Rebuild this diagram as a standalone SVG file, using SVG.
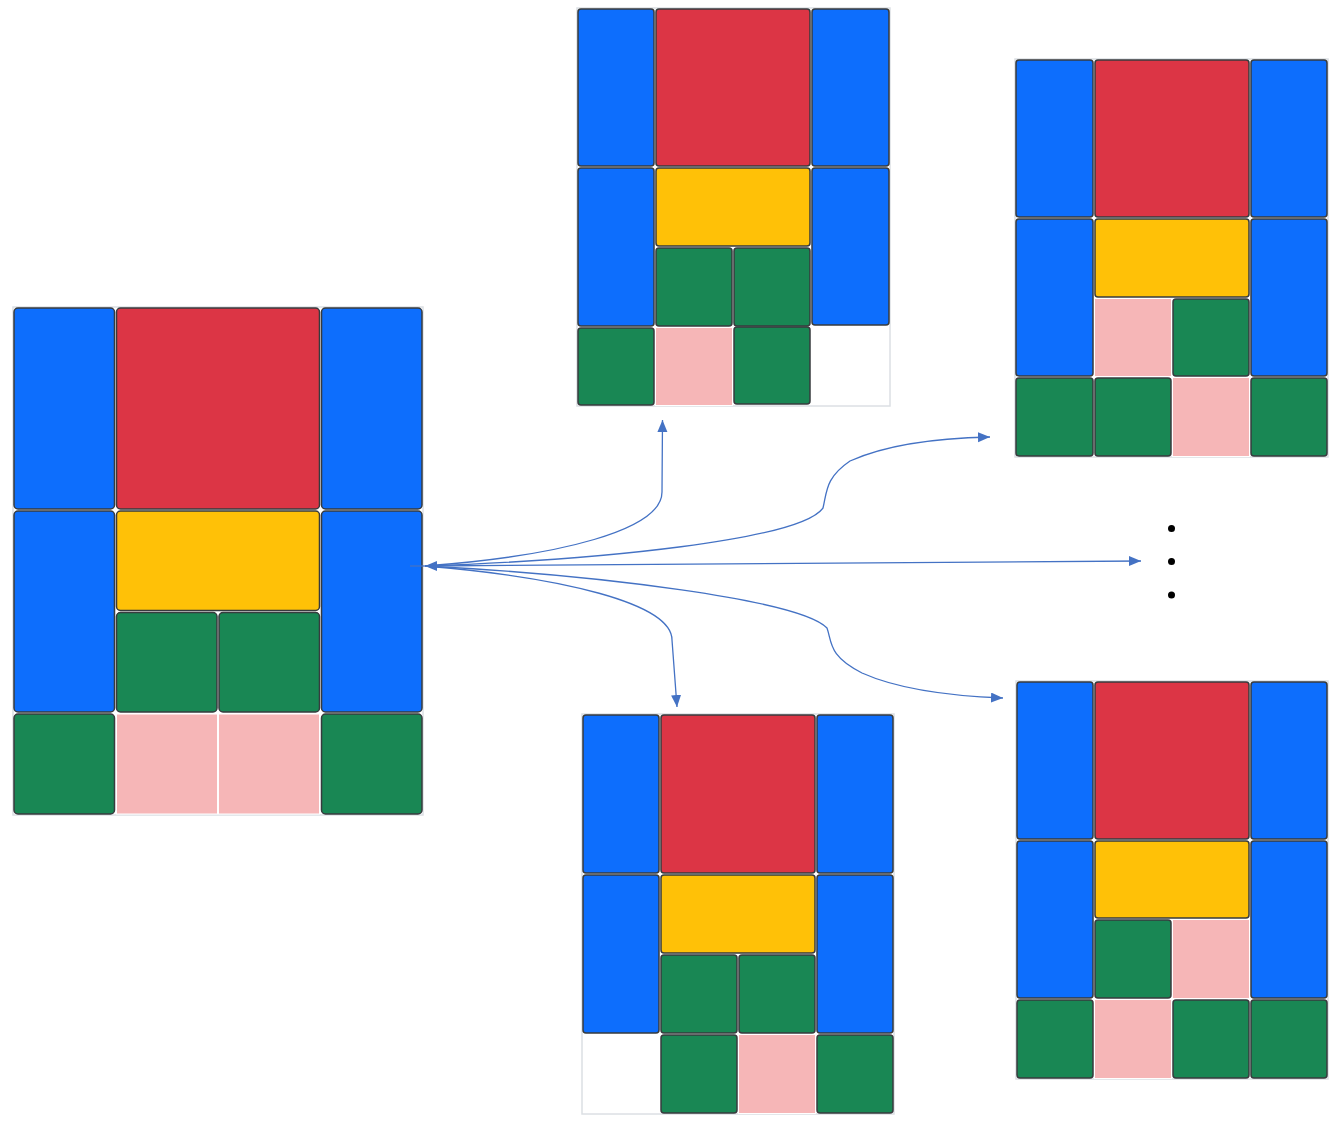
<svg xmlns="http://www.w3.org/2000/svg" width="1343" height="1125" viewBox="0 0 1343 1125">
<style>
.bg{fill:#ffffff;stroke:#dcdfe4;stroke-width:1.5}
.c{stroke:#373b3e;stroke-width:1.5}
.b{fill:#0d6efd}
.r{fill:#dc3545}
.y{fill:#ffc107}
.g{fill:#198754}
.p{fill:#f6b6b7;stroke:#ffffff;stroke-width:1}
.ln{fill:none;stroke:#4472c4;stroke-width:1.3}
.dot{fill:#000000}
</style>
<defs>
<marker id="ah" markerUnits="userSpaceOnUse" markerWidth="13" markerHeight="11" refX="12" refY="5" orient="auto-start-reverse">
<path d="M0,0 L12,5 L0,10 z" fill="#4472c4"/>
</marker>
</defs>
<rect width="1343" height="1125" fill="#ffffff"/>

<g id="board-left">
<rect class="bg" x="13" y="307" width="410" height="508"/>
<rect class="c b" x="14" y="308" width="100.5" height="201" rx="4"/>
<rect class="c r" x="116.5" y="308" width="203" height="201" rx="4"/>
<rect class="c b" x="321.5" y="308" width="100.5" height="201" rx="4"/>
<rect class="c b" x="14" y="511" width="100.5" height="201" rx="4"/>
<rect class="c y" x="116.5" y="511" width="203" height="99.5" rx="4"/>
<rect class="c b" x="321.5" y="511" width="100.5" height="201" rx="4"/>
<rect class="c g" x="116.5" y="612.5" width="100.5" height="99.5" rx="4"/>
<rect class="c g" x="219" y="612.5" width="100.5" height="99.5" rx="4"/>
<rect class="c g" x="14" y="714" width="100.5" height="100" rx="4"/>
<rect class="p" x="116.5" y="714" width="101" height="100"/>
<rect class="p" x="218.5" y="714" width="101" height="100"/>
<rect class="c g" x="321.5" y="714" width="100.5" height="100" rx="4"/>
</g>

<g id="board-top-middle">
<rect class="bg" x="577" y="8" width="313" height="398"/>
<rect class="c b" x="578" y="9" width="76" height="157" rx="3"/>
<rect class="c r" x="656" y="9" width="154" height="157" rx="3"/>
<rect class="c b" x="812" y="9" width="77" height="157" rx="3"/>
<rect class="c b" x="578" y="168" width="76" height="158" rx="3"/>
<rect class="c y" x="656" y="168" width="154" height="78" rx="3"/>
<rect class="c b" x="812" y="168" width="77" height="157" rx="3"/>
<rect class="c g" x="656" y="248" width="76" height="78" rx="3"/>
<rect class="c g" x="734" y="248" width="76" height="78" rx="3"/>
<rect class="c g" x="578" y="328" width="76" height="77" rx="3"/>
<rect class="p" x="655.5" y="327.5" width="77" height="78"/>
<rect class="c g" x="734" y="327" width="76" height="77" rx="3"/>
</g>

<g id="board-top-right">
<rect class="bg" x="1015" y="59" width="313" height="398"/>
<rect class="c b" x="1016" y="60" width="77" height="157" rx="3"/>
<rect class="c r" x="1095" y="60" width="154" height="157" rx="3"/>
<rect class="c b" x="1251" y="60" width="76" height="157" rx="3"/>
<rect class="c b" x="1016" y="219" width="77" height="157" rx="3"/>
<rect class="c y" x="1095" y="219" width="154" height="78" rx="3"/>
<rect class="c b" x="1251" y="219" width="76" height="157" rx="3"/>
<rect class="p" x="1094.5" y="298.5" width="77" height="78"/>
<rect class="c g" x="1173" y="299" width="76" height="77" rx="3"/>
<rect class="c g" x="1016" y="378" width="77" height="78" rx="3"/>
<rect class="c g" x="1095" y="378" width="76" height="78" rx="3"/>
<rect class="p" x="1172.5" y="377.5" width="77" height="79"/>
<rect class="c g" x="1251" y="378" width="76" height="78" rx="3"/>
</g>

<g id="board-bottom-middle">
<rect class="bg" x="582" y="714" width="312" height="400"/>
<rect class="c b" x="583" y="715" width="76" height="158" rx="3"/>
<rect class="c r" x="661" y="715" width="154" height="158" rx="3"/>
<rect class="c b" x="817" y="715" width="76" height="158" rx="3"/>
<rect class="c b" x="583" y="875" width="76" height="158" rx="3"/>
<rect class="c y" x="661" y="875" width="154" height="78" rx="3"/>
<rect class="c b" x="817" y="875" width="76" height="158" rx="3"/>
<rect class="c g" x="661" y="955" width="76" height="78" rx="3"/>
<rect class="c g" x="739" y="955" width="76" height="78" rx="3"/>
<rect class="c g" x="661" y="1035" width="76" height="78" rx="3"/>
<rect class="p" x="738.5" y="1034.5" width="77" height="79"/>
<rect class="c g" x="817" y="1035" width="76" height="78" rx="3"/>
</g>

<g id="board-bottom-right">
<rect class="bg" x="1016" y="681" width="312" height="398"/>
<rect class="c b" x="1017" y="682" width="76" height="157" rx="3"/>
<rect class="c r" x="1095" y="682" width="154" height="157" rx="3"/>
<rect class="c b" x="1251" y="682" width="76" height="157" rx="3"/>
<rect class="c b" x="1017" y="841" width="76" height="157" rx="3"/>
<rect class="c y" x="1095" y="841" width="154" height="77" rx="3"/>
<rect class="c b" x="1251" y="841" width="76" height="157" rx="3"/>
<rect class="c g" x="1095" y="920" width="76" height="78" rx="3"/>
<rect class="p" x="1172.5" y="919.5" width="77" height="79"/>
<rect class="c g" x="1017" y="1000" width="76" height="78" rx="3"/>
<rect class="p" x="1094.5" y="999.5" width="77" height="79"/>
<rect class="c g" x="1173" y="1000" width="76" height="78" rx="3"/>
<rect class="c g" x="1251" y="1000" width="76" height="78" rx="3"/>
</g>

<g id="ellipsis">
<circle class="dot" cx="1171.5" cy="528.5" r="3.5"/>
<circle class="dot" cx="1171.5" cy="561.5" r="3.5"/>
<circle class="dot" cx="1171.5" cy="595" r="3.5"/>
</g>

<g id="connectors">
<path class="ln" d="M 410 566 L 425 566"/>
<path class="ln" d="M 425 566 L 1141 561" marker-start="url(#ah)" marker-end="url(#ah)"/>
<path class="ln" d="M 425 566 C 560 556, 662 530, 662 492 L 662.5 420" marker-end="url(#ah)"/>
<path class="ln" d="M 425 566 C 600 560, 800 540, 823 508 C 827 492, 825 478, 850 461 C 890 443, 940 438, 990 437" marker-end="url(#ah)"/>
<path class="ln" d="M 425 566 C 560 577, 672 603, 672 640 L 677 707" marker-end="url(#ah)"/>
<path class="ln" d="M 425 566 C 600 575, 800 600, 827 628 C 832 642, 828 656, 862 673 C 900 690, 950 696, 1003 698" marker-end="url(#ah)"/>
</g>
</svg>
